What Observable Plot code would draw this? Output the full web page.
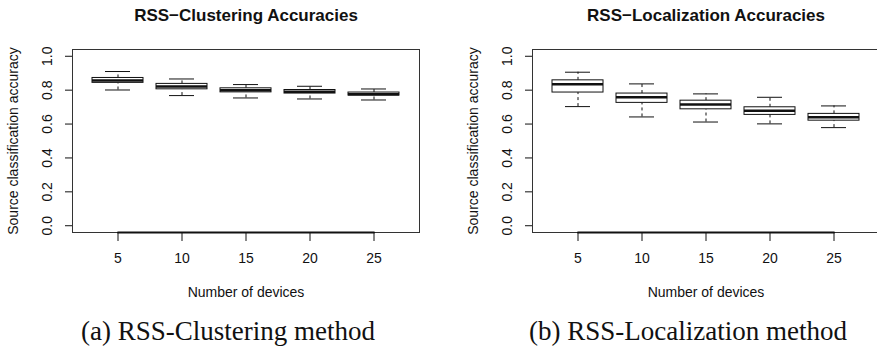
<!DOCTYPE html>
<html>
<head>
<meta charset="utf-8">
<script src="https://cdn.jsdelivr.net/npm/d3@7"></script>
<script src="https://cdn.jsdelivr.net/npm/@observablehq/plot@0.6"></script>
<style>
  html, body { margin: 0; padding: 0; background: white; overflow: hidden; }
  #wrap { position: relative; width: 877px; height: 357px; overflow: hidden; background: white; }
  .panel { position: absolute; top: 0; }
  .caption { position: absolute; top: 318px; font-family: "Liberation Serif", "Times New Roman", serif; font-size: 27px; line-height: 27px; white-space: nowrap; transform: translateX(-50%); color: #111; }
</style>
</head>
<body>
<div id="wrap">
  <div id="left" class="panel" style="left:0px;width:437px"></div>
  <div id="right" class="panel" style="left:437px;width:442px"></div>
  <div class="caption" style="left:228px">(a) RSS-Clustering method</div>
  <div class="caption" style="left:688px">(b) RSS-Localization method</div>
</div>
<script>
const devices = [5, 10, 15, 20, 25];
const yTicks = [0, 0.2, 0.4, 0.6, 0.8, 1.0];

const clusterLow  = [0.801, 0.768, 0.754, 0.748, 0.742];
const clusterQ1   = [0.843, 0.805, 0.787, 0.780, 0.768];
const clusterMed  = [0.857, 0.821, 0.799, 0.790, 0.776];
const clusterQ3   = [0.872, 0.837, 0.811, 0.801, 0.786];
const clusterHigh = [0.910, 0.866, 0.833, 0.823, 0.807];

const locLow  = [0.703, 0.642, 0.612, 0.601, 0.579];
const locQ1   = [0.786, 0.725, 0.687, 0.654, 0.620];
const locMed  = [0.835, 0.758, 0.715, 0.679, 0.640];
const locQ3   = [0.858, 0.780, 0.738, 0.699, 0.660];
const locHigh = [0.906, 0.837, 0.778, 0.758, 0.707];

function panel({title, low, q1, med, q3, high, width, marginLeft, marginRight}) {
  const rows = devices.map((d, i) => ({d, low: low[i], q1: q1[i], med: med[i], q3: q3[i], high: high[i]}));
  const ink = "#111";
  return Plot.plot({
    width, height: 300,
    marginLeft, marginRight, marginTop: 49, marginBottom: 68,
    style: {fontFamily: "'Liberation Sans', Arial, Helvetica, sans-serif", fontSize: "14px", color: "#111", background: "white", overflow: "visible"},
    x: {type: "band", domain: devices, paddingInner: 0.2, paddingOuter: 0.3, tickSize: 9, tickPadding: 12, label: null},
    y: {domain: [-0.04, 1.04], ticks: yTicks, tickSize: 7, tickFormat: () => "", label: null},
    marks: [
      Plot.frame({stroke: "#333"}),
      Plot.ruleX(rows, {x: "d", y1: "q3", y2: "high", stroke: ink, strokeDasharray: "3,3"}),
      Plot.ruleX(rows, {x: "d", y1: "low", y2: "q1", stroke: ink, strokeDasharray: "3,3"}),
      Plot.tickY(rows, {x: "d", y: "high", stroke: ink, inset: 13}),
      Plot.tickY(rows, {x: "d", y: "low", stroke: ink, inset: 13}),
      Plot.barY(rows, {x: "d", y1: "q1", y2: "q3", fill: "white", stroke: ink}),
      Plot.tickY(rows, {x: "d", y: "med", stroke: ink, strokeWidth: 2.5}),
      Plot.lineY([devices[0], devices[devices.length - 1]], {x: d => d, y: () => -0.04, stroke: ink, strokeWidth: 2}),
      Plot.text(yTicks, {y: d => d, text: d => d.toFixed(1), frameAnchor: "left", textAnchor: "middle", lineAnchor: "middle", dx: -25, rotate: -90, fontSize: 14}),
      Plot.text([title], {text: d => d, frameAnchor: "top", lineAnchor: "middle", dy: -34, fontWeight: "bold", fontSize: 17}),
      Plot.text(["Number of devices"], {text: d => d, frameAnchor: "bottom", lineAnchor: "middle", dy: 60, fontSize: 14}),
      Plot.text(["Source classification accuracy"], {text: d => d, frameAnchor: "left", textAnchor: "middle", lineAnchor: "middle", dx: -59, rotate: -90, fontSize: 14})
    ]
  });
}

document.getElementById("left").appendChild(panel({
  title: "RSS\u2212Clustering Accuracies",
  low: clusterLow, q1: clusterQ1, med: clusterMed, q3: clusterQ3, high: clusterHigh,
  width: 437, marginLeft: 72, marginRight: 18
}));
document.getElementById("right").appendChild(panel({
  title: "RSS\u2212Localization Accuracies",
  low: locLow, q1: locQ1, med: locMed, q3: locQ3, high: locHigh,
  width: 442, marginLeft: 95, marginRight: 0
}));
</script>
</body>
</html>
